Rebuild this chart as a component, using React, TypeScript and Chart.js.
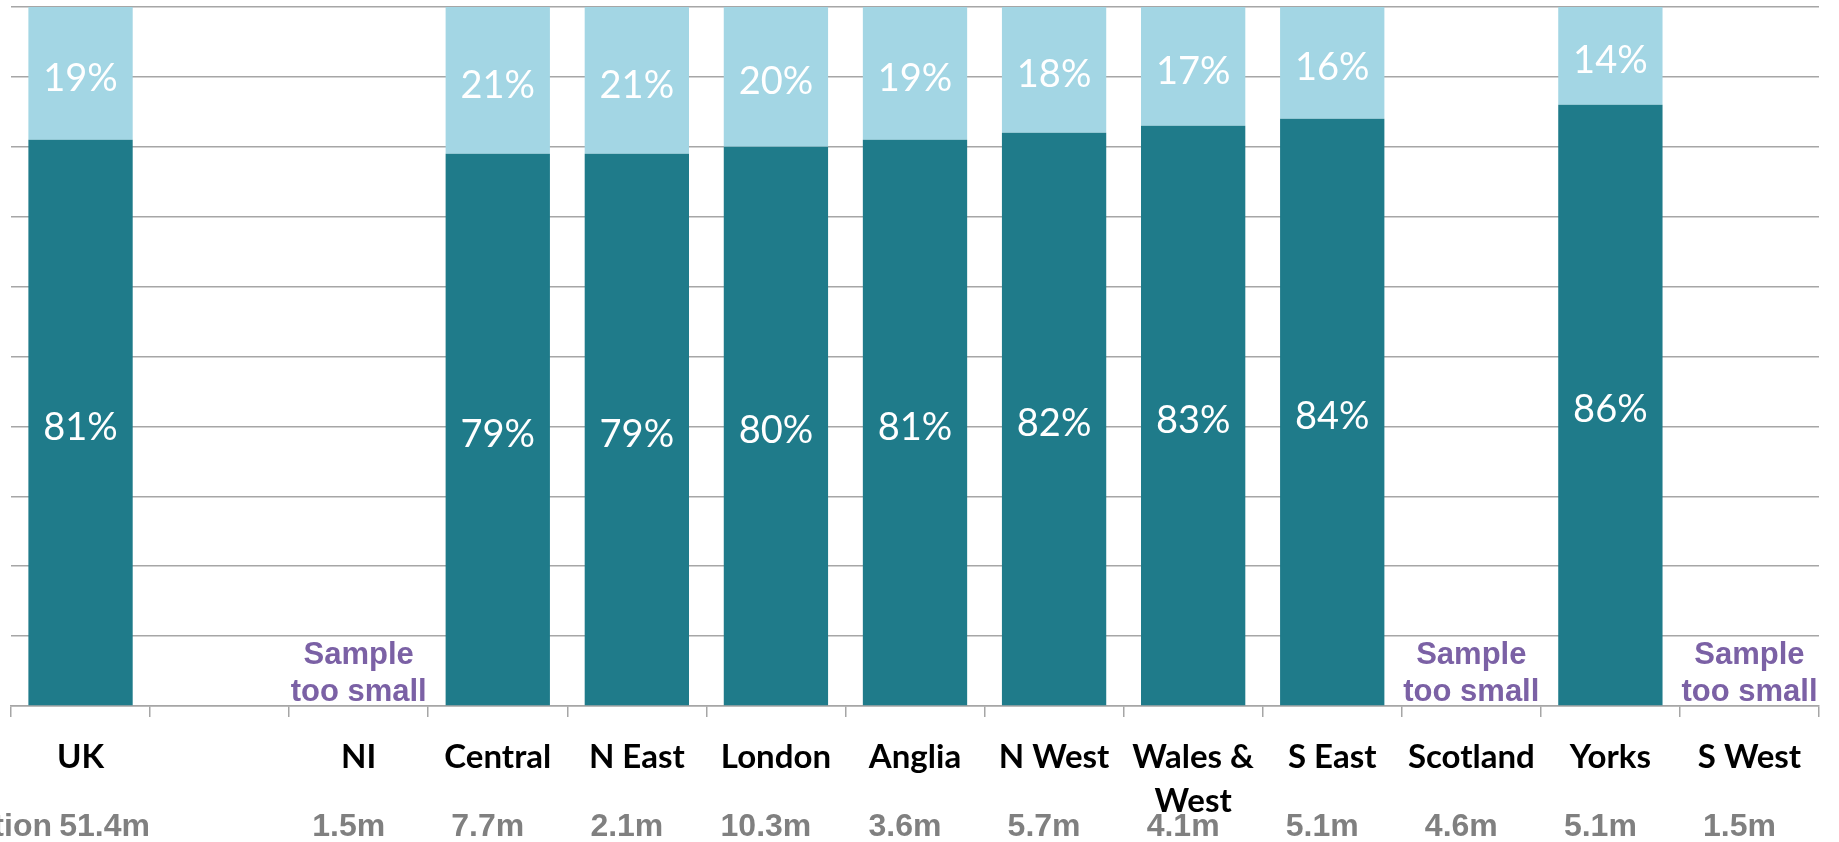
import React, { useEffect, useRef } from "react";
import { Chart, registerables } from "chart.js";

Chart.register(...registerables);

const categories = ["UK", "", "NI", "Central", "N East", "London", "Anglia", "N West", "Wales & West", "S East", "Scotland", "Yorks", "S West"];
const satisfiedValues = [81, null, null, 79, 79, 80, 81, 82, 83, 84, null, 86, null];
const otherValues = [19, null, null, 21, 21, 20, 19, 18, 17, 16, null, 14, null];
const population = ["51.4m", "", "1.5m", "7.7m", "2.1m", "10.3m", "3.6m", "5.7m", "4.1m", "5.1m", "4.6m", "5.1m", "1.5m"];
const populationTitle = "Population";
const smallSampleNote = ["Sample", "too small"];
const yTickValues = [0, 10, 20, 30, 40, 50, 60, 70, 80, 90, 100];

const DARK = "#1f7b8a";
const LIGHT = "#a3d6e4";
const GRID = "#a6a6a6";
const GREY_TEXT = "#808080";
const PURPLE = "#7b61a5";

const labelsPlugin = {
  id: "customLabels",
  afterDatasetsDraw(chart: any) {
    const ctx = chart.ctx;
    ctx.save();
    ctx.fillStyle = "#ffffff";
    ctx.font = "38px Lato";
    ctx.textAlign = "center";
    ctx.textBaseline = "middle";
    chart.data.datasets.forEach((ds: any, di: number) => {
      const meta = chart.getDatasetMeta(di);
      meta.data.forEach((bar: any, i: number) => {
        const v = ds.data[i];
        if (v === null || v === undefined) return;
        const props = bar.getProps(["x", "y", "base"], true);
        ctx.fillText(v + "%", props.x, (props.y + props.base) / 2 + 5);
      });
    });
    ctx.restore();
  },
  afterDraw(chart: any) {
    const ctx = chart.ctx;
    const xScale = chart.scales.x;
    const yScale = chart.scales.y;
    ctx.save();
    // sample too small notes
    ctx.fillStyle = PURPLE;
    ctx.font = "bold 31px 'Liberation Sans', Arial, sans-serif";
    ctx.textAlign = "center";
    ctx.textBaseline = "alphabetic";
    const base = yScale.getPixelForValue(0);
    categories.forEach((c, i) => {
      if (c && satisfiedValues[i] === null) {
        const x = xScale.getPixelForValue(i);
        ctx.fillText(smallSampleNote[0], x, base - 42);
        ctx.fillText(smallSampleNote[1], x, base - 5);
      }
    });
    // population row
    ctx.fillStyle = GREY_TEXT;
    ctx.font = "bold 32px 'Liberation Sans', Arial, sans-serif";
    const popY = 836;
    ctx.textAlign = "right";
    ctx.fillText(populationTitle, 52, popY);
    ctx.textAlign = "center";
    population.forEach((p, i) => {
      if (!p) return;
      const x = xScale.getPixelForValue(i);
      const shift = i === 0 ? 24 : -10;
      ctx.fillText(p, x + shift, popY);
    });
    ctx.restore();
  },
};

export default function App() {
  const ref = useRef<HTMLCanvasElement>(null);
  useEffect(() => {
    if (!ref.current) return;
    const chart = new Chart(ref.current, {
      type: "bar",
      data: {
        labels: categories,
        datasets: [
          {
            label: "Satisfied",
            data: satisfiedValues,
            backgroundColor: DARK,
            borderWidth: 0,
            stack: "s",
          },
          {
            label: "Other",
            data: otherValues,
            backgroundColor: LIGHT,
            borderWidth: 0,
            stack: "s",
          },
        ],
      },
      options: {
        animation: false,
        responsive: true,
        maintainAspectRatio: false,
        layout: { padding: { left: 11, right: 20, top: 7, bottom: 0 } },
        plugins: { legend: { display: false }, tooltip: { enabled: false } },
        datasets: { bar: { categoryPercentage: 1, barPercentage: 0.75 } },
        scales: {
          x: {
            stacked: true,
            offset: true,
            grid: {
              display: true,
              drawOnChartArea: false,
              drawTicks: true,
              tickLength: 11,
              color: GRID,
              lineWidth: 1.5,
              offset: true,
            },
            border: { display: true, color: GRID, width: 1.5 },
            ticks: {
              color: "#000000",
              font: { family: "Lato", weight: "bold", size: 33, lineHeight: "44px" },
              padding: 18,
              maxRotation: 0,
              autoSkip: false,
              callback: (_v: any, i: number) => {
                const c = categories[i];
                if (c.includes(" & ")) {
                  const k = c.indexOf(" & ") + 2;
                  return [c.slice(0, k), c.slice(k + 1)];
                }
                return c;
              },
            },
            afterFit: (scale: any) => {
              scale.height = 136;
            },
          },
          y: {
            stacked: true,
            min: yTickValues[0],
            max: yTickValues[yTickValues.length - 1],
            ticks: { display: false, stepSize: yTickValues[1] - yTickValues[0] },
            grid: { color: GRID, lineWidth: 1.5, drawTicks: false },
            border: { display: false },
            afterFit: (scale: any) => {
              scale.width = 0;
            },
          },
        },
      },
      plugins: [labelsPlugin],
    } as any);
    return () => chart.destroy();
  }, []);
  return (
    <div style={{ position: "fixed", left: 0, top: 0, width: 1839, height: 842, background: "#ffffff" }}>
      <canvas ref={ref} />
    </div>
  );
}
